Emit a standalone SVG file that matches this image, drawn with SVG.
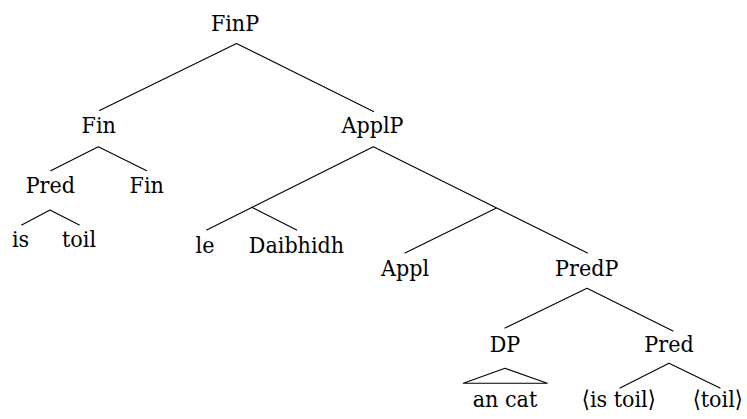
<svg xmlns="http://www.w3.org/2000/svg" width="747" height="419" viewBox="0 0 747 419">
  <style>
    text { font-family: 'DejaVu Serif', serif; font-stretch: condensed; font-size: 23px; fill: #000; text-anchor: middle; }
    .edge { stroke: #000; stroke-width: 1.1; fill: none; stroke-linecap: round; stroke-linejoin: round; }
  </style>
  <rect width="747" height="419" fill="#fff"/>

  <!-- tree branches -->
  <g id="connectors">
    <polyline class="edge" points="99.5,110.5 236.5,43.5 373.5,111.5"/>
    <polyline class="edge" points="50.7,170.7 98.3,146.7 146.7,170.7"/>
    <polyline class="edge" points="21.7,225 50,210 79.3,225"/>
    <polyline class="edge" points="206.7,230 373.3,146.7 587.5,253"/>
    <line class="edge" x1="251.7" y1="207.3" x2="296.7" y2="230"/>
    <line class="edge" x1="496" y1="208.3" x2="405" y2="253"/>
    <polyline class="edge" points="505,328 587,288.3 673,331"/>
    <polyline class="edge" points="620,388 669,363.3 720,388"/>
    <polygon class="edge" points="463.3,383.3 505,368.3 547.3,383.3"/>
  </g>

  <g id="n-finp"><text x="235" y="31">FinP</text></g>
  <g id="n-fin"><text x="98.7" y="133">Fin</text></g>
  <g id="n-pred1"><text x="50.3" y="193">Pred</text></g>
  <g id="n-fin2"><text x="146.7" y="193">Fin</text></g>
  <g id="n-is"><text x="20.5" y="247">is</text></g>
  <g id="n-toil"><text x="79" y="247">toil</text></g>
  <g id="n-applp"><text x="372.5" y="133">ApplP</text></g>
  <g id="n-le"><text x="205" y="253">le</text></g>
  <g id="n-daibhidh"><text x="296.5" y="253">Daibhidh</text></g>
  <g id="n-appl"><text x="405" y="276">Appl</text></g>
  <g id="n-predp"><text x="586.7" y="276">PredP</text></g>
  <g id="n-dp"><text x="505" y="352">DP</text></g>
  <g id="n-pred2"><text x="669" y="352">Pred</text></g>
  <g id="n-ancat"><text x="505" y="407">an cat</text></g>
  <g id="n-istoil"><text x="618.8" y="407">⟨is toil⟩</text></g>
  <g id="n-toil2"><text x="717.8" y="407">⟨toil⟩</text></g>
</svg>
